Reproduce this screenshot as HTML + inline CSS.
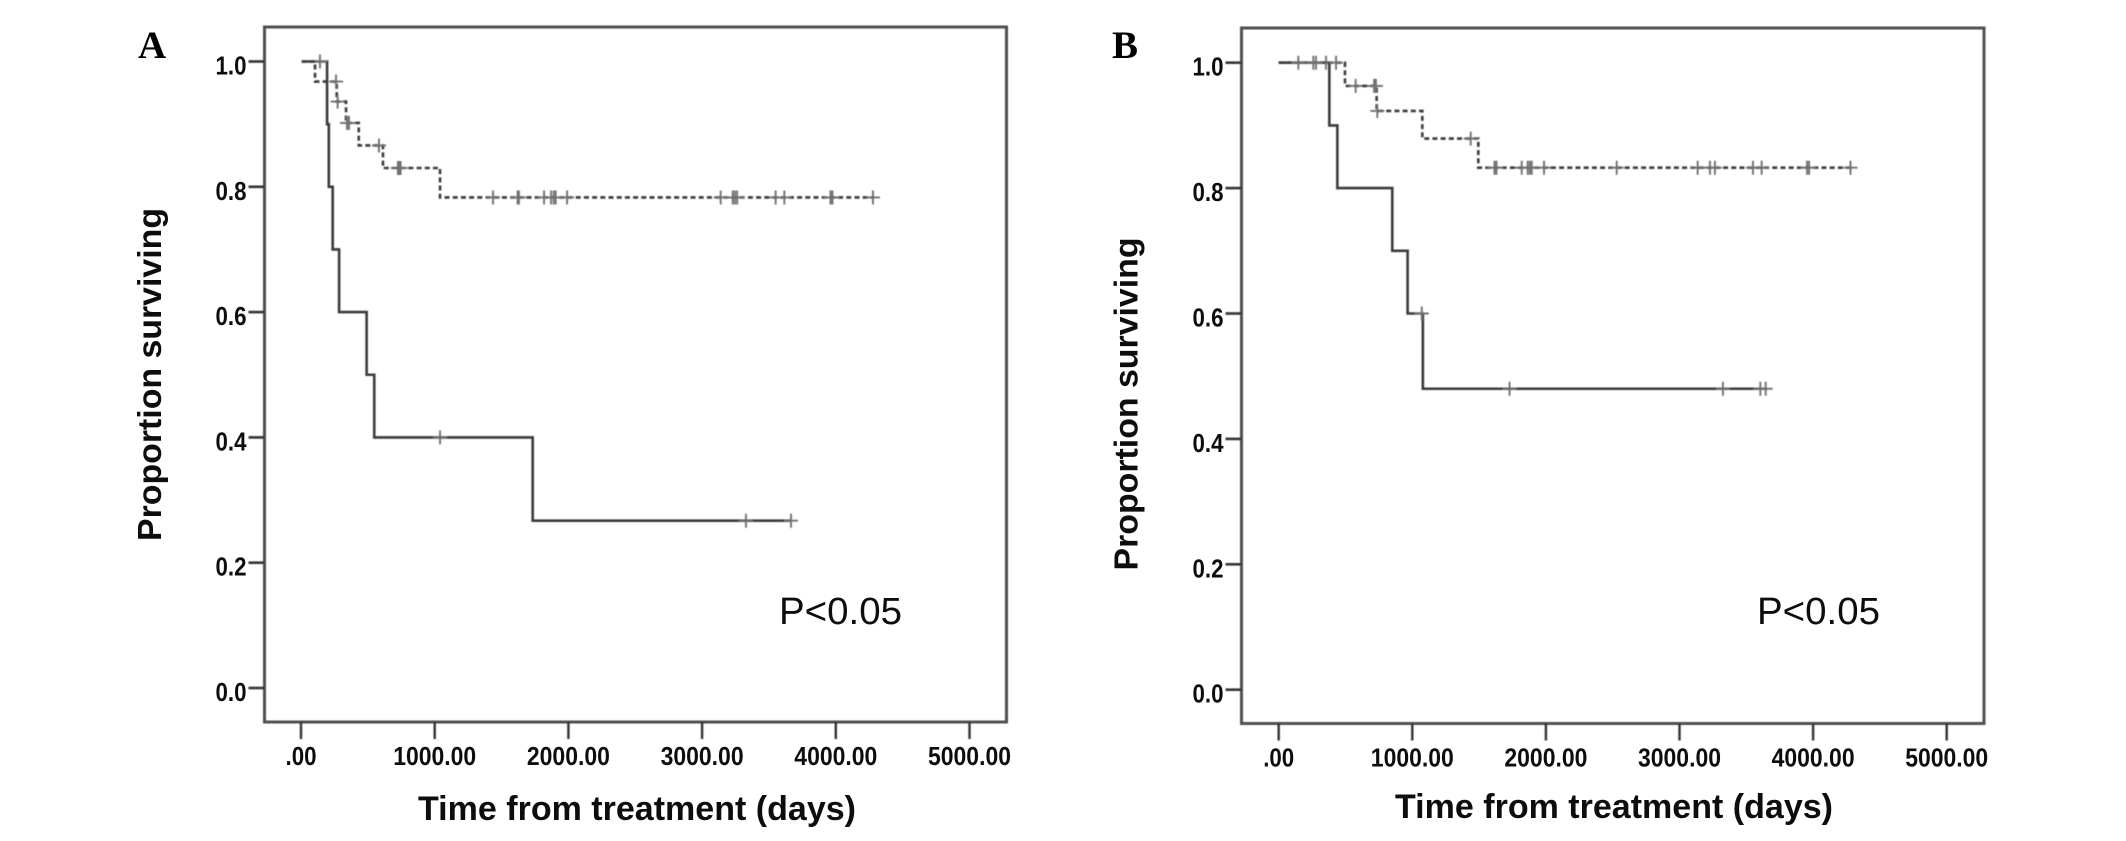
<!DOCTYPE html>
<html lang="en">
<head>
<meta charset="utf-8">
<title>Kaplan-Meier survival curves</title>
<style>
  html, body { margin: 0; padding: 0; background: #fff; }
  svg { display: block; }
  text { font-family: "Liberation Sans", sans-serif; fill: #111; }
</style>
</head>
<body>
<svg id="figure" xmlns="http://www.w3.org/2000/svg" width="2126" height="841" viewBox="0 0 2126 841">
  <defs>
    <filter id="soft" x="-5%" y="-5%" width="110%" height="110%"><feGaussianBlur stdDeviation="0.55"></feGaussianBlur></filter>
    <filter id="softText" x="-5%" y="-5%" width="110%" height="110%"><feGaussianBlur stdDeviation="0.35"></feGaussianBlur></filter>
  </defs>
</svg>
<script>
// Axis tick values
var xTickValues = [0, 1000, 2000, 3000, 4000, 5000];
var xTickLabels = [".00", "1000.00", "2000.00", "3000.00", "4000.00", "5000.00"];
var yTickValues = [0, 0.2, 0.4, 0.6, 0.8, 1.0];
var yTickLabels = ["0.0", "0.2", "0.4", "0.6", "0.8", "1.0"];

// Panel A: solid curve
var aSolidDays = [5, 195, 208, 237, 285, 491, 548, 1733];
var aSolidSurvival = [1.0, 0.9, 0.8, 0.7, 0.6, 0.5, 0.4, 0.267];
var aSolidEnd = 3665;
var aSolidCensored = [142, 1040, 3328, 3665];

// Panel A: dashed curve
var aDashedDays = [5, 105, 267, 337, 432, 613, 1040];
var aDashedSurvival = [1.0, 0.968, 0.936, 0.902, 0.866, 0.83, 0.783];
var aDashedEnd = 4280;
var aDashedCensored = [262, 274, 344, 359, 583, 725, 735, 745, 1436, 1620, 1630, 1818, 1870, 1890, 1905, 1990, 3139, 3229, 3245, 3262, 3550, 3615, 3960, 3975, 4278];

// Panel B: solid curve
var bSolidDays = [0, 379, 439, 850, 965, 1079];
var bSolidSurvival = [1.0, 0.9, 0.8, 0.7, 0.6, 0.48];
var bSolidEnd = 3650;
var bSolidCensored = [354, 1071, 1728, 3325, 3605, 3645];

// Panel B: dashed curve
var bDashedDays = [0, 496, 733, 1075, 1494];
var bDashedSurvival = [1.0, 0.963, 0.923, 0.879, 0.8325];
var bDashedEnd = 4280;
var bDashedCensored = [147, 259, 279, 429, 576, 714, 728, 738, 1437, 1615, 1630, 1819, 1864, 1880, 1894, 1986, 2530, 3136, 3228, 3265, 3550, 3615, 3955, 3970, 4280];

var NS = "http://www.w3.org/2000/svg";
var root = document.getElementById("figure");

function make(tag, attrs, parent, content) {
  var el = document.createElementNS(NS, tag);
  for (var k in attrs) { el.setAttribute(k, attrs[k]); }
  if (content !== undefined) { el.textContent = content; }
  parent.appendChild(el);
  return el;
}

function survivalAt(days, values, d) {
  var s = values[0];
  for (var i = 0; i < days.length; i++) {
    if (d >= days[i]) { s = values[i]; }
  }
  return s;
}

function drawCurve(g, xScale, yScale, days, values, end, censored, dashed, curveName) {
  var d = "M" + xScale(days[0]) + " " + yScale(values[0]);
  for (var i = 1; i < days.length; i++) {
    d += " H" + xScale(days[i]) + " V" + yScale(values[i]);
  }
  d += " H" + xScale(end);
  var line = make("path", {
    d: d, fill: "none", stroke: "#3a3a3a",
    "stroke-width": 2.6,
    "stroke-dasharray": dashed ? "5 3.2" : "none"
  }, g);
  
  
  for (var c = 0; c < censored.length; c++) {
    var cx = xScale(censored[c]);
    var cy = yScale(survivalAt(days, values, censored[c]));
    var mark = make("path", {
      d: "M" + (cx - 7) + " " + cy + " H" + (cx + 7) + " M" + cx + " " + (cy - 7) + " V" + (cy + 7),
      fill: "none", stroke: "#707070", "stroke-width": 1.9
    }, g);
    
    
  }
}

function drawPanel(p) {
  var g = make("g", {}, root);
  
  

  var lineLayer = make("g", { filter: "url(#soft)" }, g);
  var textLayer = make("g", { filter: "url(#softText)" }, g);

  var xScale = function (v) { return p.x0 + v * p.xPerDay; };
  var yScale = function (v) { return p.y0 - v * p.yPerUnit; };

  var frame = make("rect", {
    x: p.left, y: p.top, width: p.right - p.left, height: p.bottom - p.top,
    fill: "none", stroke: "#505050", "stroke-width": 3
  }, lineLayer);
  
  

  for (var i = 0; i < xTickValues.length; i++) {
    var tx = xScale(xTickValues[i]);
    var xt = make("line", { x1: tx, x2: tx, y1: p.bottom, y2: p.bottom + 17, stroke: "#333", "stroke-width": 2.4 }, lineLayer);
    
    
    var xl = make("text", {
      x: tx, y: p.xLabelBase, "text-anchor": "middle", "font-size": 26, "font-weight": "bold",
      textLength: i === 0 ? 31 : 83, lengthAdjust: "spacingAndGlyphs"
    }, textLayer, xTickLabels[i]);
    
    
  }

  for (var j = 0; j < yTickValues.length; j++) {
    var ty = yScale(yTickValues[j]);
    var yt = make("line", { x1: p.left - 16, x2: p.left, y1: ty, y2: ty, stroke: "#333", "stroke-width": 2.6 }, lineLayer);
    
    
    var yl = make("text", {
      x: p.left - 18, y: ty + 13, "text-anchor": "end", "font-size": 26, "font-weight": "bold",
      textLength: 31, lengthAdjust: "spacingAndGlyphs"
    }, textLayer, yTickLabels[j]);
    
    
  }

  drawCurve(lineLayer, xScale, yScale, p.solidDays, p.solidSurvival, p.solidEnd, p.solidCensored, false, 'solid-survival-curve');
  drawCurve(lineLayer, xScale, yScale, p.dashedDays, p.dashedSurvival, p.dashedEnd, p.dashedCensored, true, 'dashed-survival-curve');

  var xTitle = make("text", {
    x: p.xTitleX, y: p.xTitleBase, "text-anchor": "middle", "font-size": 34, "font-weight": "bold",
    textLength: 438, lengthAdjust: "spacingAndGlyphs"
  }, textLayer, "Time from treatment (days)");
  
  

  var yTitle = make("text", {
    x: 0, y: 0, "text-anchor": "middle", "font-size": 33, "font-weight": "bold",
    textLength: 333, lengthAdjust: "spacingAndGlyphs",
    transform: "translate(" + p.yTitleX + " " + p.yTitleY + ") rotate(-90)"
  }, textLayer, "Proportion surviving");
  
  

  var letter = make("text", {
    x: p.letterX, y: 58, "font-size": 39, "font-weight": "bold",
    style: "font-family:'Liberation Serif',serif;fill:#000"
  }, textLayer, p.letter);
  
  

  var pv = make("text", {
    x: p.pX, y: p.pY, "font-size": 38,
    textLength: 123, lengthAdjust: "spacingAndGlyphs"
  }, textLayer, "P<0.05");
  
  
}

drawPanel({
  name: "panel-a", letter: "A", letterX: 138,
  left: 264.5, right: 1006.5, top: 27, bottom: 722,
  x0: 301, xPerDay: 0.1337, y0: 688, yPerUnit: 626.5,
  xLabelBase: 765, xTitleX: 637, xTitleBase: 820,
  yTitleX: 161, yTitleY: 374.5, pX: 779, pY: 624,
  solidDays: aSolidDays, solidSurvival: aSolidSurvival, solidEnd: aSolidEnd, solidCensored: aSolidCensored,
  dashedDays: aDashedDays, dashedSurvival: aDashedSurvival, dashedEnd: aDashedEnd, dashedCensored: aDashedCensored
});

drawPanel({
  name: "panel-b", letter: "B", letterX: 1112,
  left: 1241.5, right: 1984, top: 28, bottom: 723.5,
  x0: 1278.7, xPerDay: 0.1336, y0: 689.7, yPerUnit: 627,
  xLabelBase: 766.5, xTitleX: 1614, xTitleBase: 818,
  yTitleX: 1137.5, yTitleY: 404, pX: 1757, pY: 624,
  solidDays: bSolidDays, solidSurvival: bSolidSurvival, solidEnd: bSolidEnd, solidCensored: bSolidCensored,
  dashedDays: bDashedDays, dashedSurvival: bDashedSurvival, dashedEnd: bDashedEnd, dashedCensored: bDashedCensored
});
</script>
</body>
</html>
